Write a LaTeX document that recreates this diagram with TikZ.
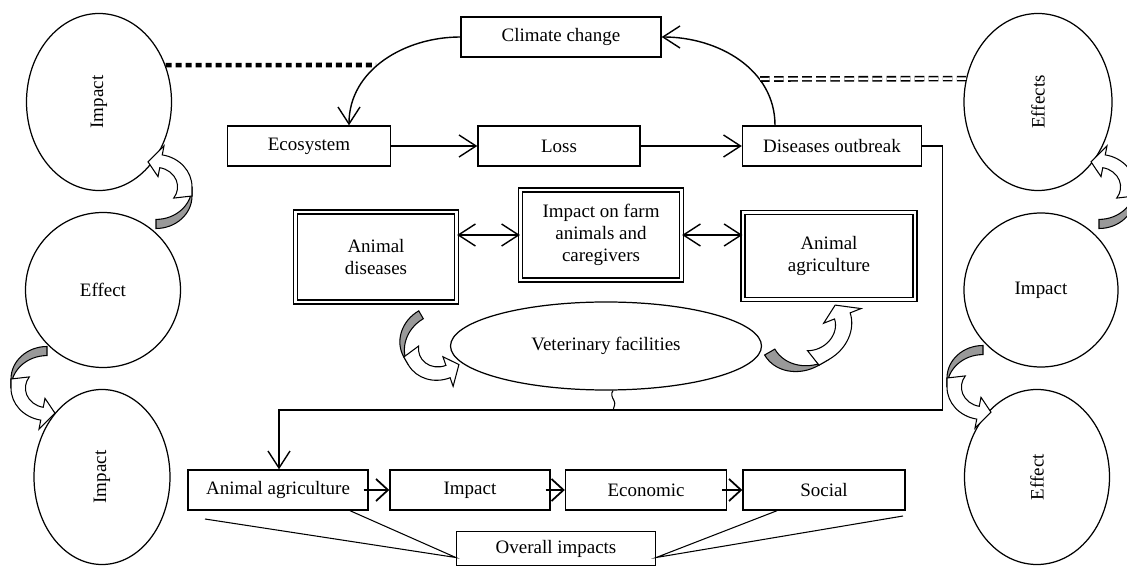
\documentclass[tikz,border=0pt]{standalone}
\usepackage{fontspec}
\setmainfont{Liberation Serif}
\usetikzlibrary{shapes.geometric,arrows.meta}
\tikzset{
  box/.style={rectangle, draw, line width=0.8pt, text centered},
  dbox/.style={rectangle, draw, double, double distance=1.5pt, line width=0.7pt, align=center},
  oval/.style={ellipse, draw, line width=0.7pt, inner sep=0pt},
  arr/.style={-{Straight Barb[length=3.4mm,width=4.4mm]}, line width=0.8pt},
  barr/.style={-{Straight Barb[length=2.4mm,width=4.4mm]}, line width=1pt},
  darr/.style={{Straight Barb[length=3.4mm,width=4.4mm]}-{Straight Barb[length=3.4mm,width=4.4mm]}, line width=0.8pt},
  dotline/.style={line width=2.6pt, dash pattern=on 3.4pt off 2.3pt},
  dashline/.style={double, double distance=1.4pt, line width=0.9pt, dash pattern=on 5.5pt off 2.5pt},
  bendarrow/.pic={
    \filldraw[fill=gray!80, line width=0.6pt] (0,-1) arc[start angle=-90, end angle=0, radius=1]
      -- (1,0.28) arc[start angle=0, end angle=-90, radius=1] -- cycle;
    \begin{scope}[shift={(0,0.28)}]
      \filldraw[fill=white, line width=0.6pt] (1,-0.28) -- (0:1) arc[start angle=0, end angle=80, radius=1]
        -- (80:1.28) -- (106:0.8) -- (80:0.32) -- (80:0.6)
        arc[start angle=80, end angle=-35, radius=0.6] -- cycle;
    \end{scope}
  }
}

\begin{document}
\begin{tikzpicture}[font=\fontsize{10.8}{12.5}\selectfont]
\useasboundingbox (0,0) rectangle (22.54,11.34);
\node (Imp1) [oval, minimum width=2.9cm, minimum height=3.54cm] at (1.98,9.30) {\rotatebox{90}{Impact}};
\node (Eff1) [oval, minimum width=3.1cm, minimum height=3.1cm] at (2.06,5.54) {Effect};
\node (Imp2) [oval, minimum width=2.72cm, minimum height=3.5cm] at (2.04,1.80) {\rotatebox{90}{Impact}};
\node (Effs) [oval, minimum width=2.96cm, minimum height=3.54cm] at (20.76,9.30) {\rotatebox{90}{Effects}};
\node (Imp3) [oval, minimum width=3.08cm, minimum height=3.08cm] at (20.82,5.54) {Impact};
\node (Eff2) [oval, minimum width=2.9cm, minimum height=3.5cm] at (20.74,1.80) {\rotatebox{90}{Effect}};

\node (Clim) [box, minimum width=4cm, minimum height=0.8cm] at (11.22,10.60) {Climate change};
\node (Eco) [box, minimum width=3.26cm, minimum height=0.8cm] at (6.18,8.42) {Ecosystem};
\node (Loss) [box, minimum width=3.24cm, minimum height=0.8cm] at (11.18,8.42) {Loss};
\node (Outbreak) [box, minimum width=3.58cm, minimum height=0.8cm] at (16.64,8.42) {Diseases outbreak};
\node (AnDis) [dbox, minimum width=3.22cm, minimum height=1.8cm] at (7.52,6.20) {Animal\\diseases};
\node (Farm) [dbox, minimum width=3.22cm, minimum height=1.8cm] at (12.02,6.64) {Impact on farm\\animals and\\caregivers};
\node (AnAgr) [dbox, minimum width=3.44cm, minimum height=1.74cm] at (16.58,6.22) {Animal\\agriculture};
\node (Vet) [oval, minimum width=6.22cm, minimum height=1.76cm] at (12.12,4.42) {Veterinary facilities};
\node (Agri) [box, minimum width=3.6cm, minimum height=0.8cm] at (5.56,1.54) {Animal agriculture};
\node (ImpB) [box, minimum width=3.2cm, minimum height=0.8cm] at (9.40,1.54) {Impact};
\node (Econ) [box, minimum width=3.22cm, minimum height=0.8cm] at (12.92,1.54) {Economic};
\node (Soc) [box, minimum width=3.24cm, minimum height=0.8cm] at (16.48,1.54) {Social};
\node (Overall) [box, minimum width=3.98cm, minimum height=0.68cm] at (11.12,0.37) {Overall impacts};

\draw[arr] (Clim.west) to[out=180,in=90] ([xshift=0.8cm]Eco.north);
\draw[arr] ([xshift=-1.14cm]Outbreak.north) to[out=90,in=0] (Clim.east);
\draw[arr] (Eco) -- (Loss);
\draw[arr] (Loss) -- (Outbreak);
\draw[darr] (AnDis.east |- Farm.west) -- (Farm.west);
\draw[darr] (Farm.east) -- (Farm.east -| AnAgr.west);

\coordinate (DotEnd) at (7.52,10.04);
\coordinate (DashStart) at (15.2,9.76);
\draw[dotline] (Imp1.29) -- (DotEnd);
\draw[dashline] (DashStart) -- (Effs.162);

\coordinate (Turn) at (5.58,3.14);
\draw[arr] (Outbreak.east) -- ++(0.4,0) |- (Turn) -- (Turn |- Agri.north);
\draw[line width=0.6pt] ([xshift=0.14cm]Vet.south) to[out=-130,in=120] ++(0.02,-0.2) to[out=-60,in=80] ++(-0.02,-0.2);

\draw[barr] ([xshift=-0.1cm]Agri.east) -- (ImpB.west);
\draw[barr] ([xshift=-0.1cm]ImpB.east) -- (Econ.west);
\draw[barr] ([xshift=-0.1cm]Econ.east) -- (Soc.west);

\coordinate (LeftEnd) at (4.10,0.96);
\coordinate (RightEnd) at (18.06,1.02);
\draw[line width=0.6pt] (LeftEnd) -- ([yshift=-0.18cm]Overall.west) -- ([xshift=1.44cm]Agri.south);
\draw[line width=0.6pt] (RightEnd) -- ([yshift=-0.18cm]Overall.east) -- ([xshift=-0.94cm]Soc.south);

\pic[xscale=0.72, yscale=0.65] at (3.12,7.42) {bendarrow};
\pic[xscale=0.72, yscale=0.65] at (21.98,7.42) {bendarrow};
\pic[rotate=180, xscale=0.72, yscale=0.65] at (0.94,3.76) {bendarrow};
\pic[rotate=180, xscale=0.72, yscale=0.65] at (19.66,3.78) {bendarrow};
\pic[rotate=210, xscale=0.72, yscale=0.65] at (8.70,4.56) {bendarrow};
\pic[rotate=-60, xscale=0.72, yscale=0.84] at (16.02,4.66) {bendarrow};
\end{tikzpicture}
\end{document}
